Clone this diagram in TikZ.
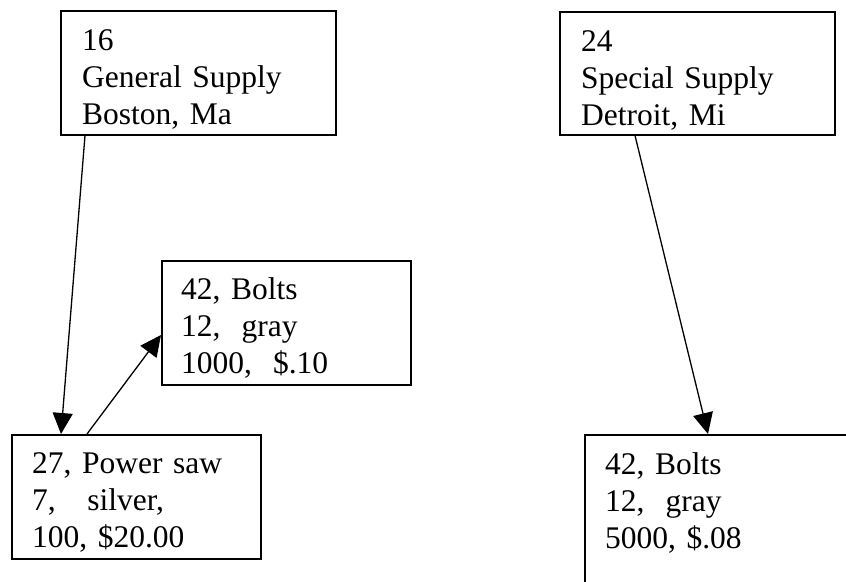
\documentclass[tikz,border=0pt]{standalone}
\usepackage{fontspec}
\setmainfont{Liberation Serif}
\usetikzlibrary{arrows.meta}
\tikzset{
  x=1pt, y=-1pt,
  boxnode/.style={draw=black, line width=1.5pt, rectangle, anchor=north west, inner sep=0pt},
  txt/.style={anchor=base west, inner sep=0pt, align=left, text width=300pt,
    font=\fontsize{31.5}{37}\selectfont},
  conn/.style={line width=1.3pt, -{Triangle[length=21pt, width=20pt]}}
}
\begin{document}
\begin{tikzpicture}
\useasboundingbox (0,0) rectangle (846,581);
\clip (0,0) rectangle (846,581);
\fill[white] (0,0) rectangle (846,581);
\node[boxnode, minimum width=275pt, minimum height=124pt] (b1) at (60,10) {};
\node[boxnode, minimum width=275pt, minimum height=123pt] (b2) at (559,11) {};
\node[boxnode, minimum width=249pt, minimum height=124pt] (b3) at (161,260) {};
\node[boxnode, minimum width=249pt, minimum height=124pt] (b4) at (11,434) {};
\node[boxnode, minimum width=320pt, minimum height=220pt] (b5) at (584,434) {};
\node[txt] (t1) at ([shift={(22pt,-40pt)}]b1.north west) {16\\General Supply\\Boston, Ma};
\node[txt] (t2) at ([shift={(22pt,-40pt)}]b2.north west) {24\\Special Supply\\Detroit, Mi};
\node[txt] (t3) at ([shift={(20pt,-39pt)}]b3.north west) {42, Bolts\\12,\ \ gray\\1000,\ \ \$.10};
\node[txt] (t4) at ([shift={(21pt,-39pt)}]b4.north west) {27, Power saw\\7,\ \ \ silver,\\100, \$20.00};
\node[txt] (t5) at ([shift={(21pt,-40pt)}]b5.north west) {42, Bolts\\12,\ \ gray\\5000, \$.08};
\draw[conn] ([xshift=25pt]b1.south west) -- ([xshift=50pt]b4.north west);
\draw[conn] ([xshift=76pt]b4.north west) -- ([yshift=-75pt]b3.north west);
\draw[conn] ([xshift=76pt]b2.south west) -- ([xshift=124pt]b5.north west);
\end{tikzpicture}
\end{document}
